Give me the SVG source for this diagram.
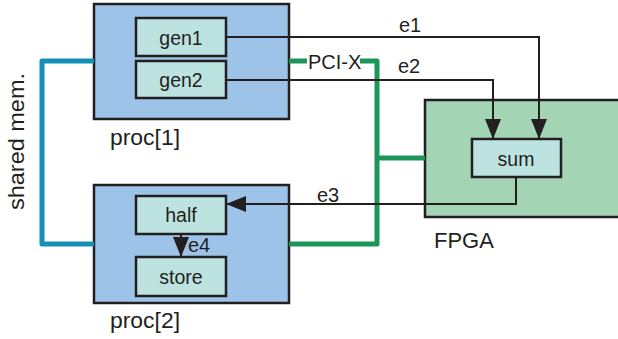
<svg xmlns="http://www.w3.org/2000/svg" width="618" height="339" viewBox="0 0 618 339">
  <defs>
    <style>
      .proc { fill: #9dc4e8; stroke: #231f20; stroke-width: 2.5; }
      .fpga { fill: #a3d5b5; stroke: #231f20; stroke-width: 2.5; }
      .task { fill: #bde3e0; stroke: #231f20; stroke-width: 2.5; }
      text { font-family: "Liberation Sans", Arial, sans-serif; fill: #231f20; }
      .in { font-size: 19.5px; text-anchor: middle; }
      .big { font-size: 22px; }
      .lbl { font-size: 20px; }
      .edge { fill: none; stroke: #231f20; stroke-width: 2; }
      .pci { fill: none; stroke: #1c9559; stroke-width: 5; stroke-linejoin: round; }
      .mem { fill: none; stroke: #1490b5; stroke-width: 5; stroke-linejoin: round; }
    </style>
    <marker id="arrow" viewBox="0 0 20 16" refX="20" refY="8" markerWidth="20" markerHeight="16" markerUnits="userSpaceOnUse" orient="auto">
      <path d="M0,0 L20,8 L0,16 Z" fill="#231f20"/>
    </marker>
  </defs>

  <!-- processor 1 -->
  <g id="proc1">
    <rect class="proc" x="94" y="4" width="195" height="115"/>
    <text class="big" x="110" y="145" textLength="70" lengthAdjust="spacingAndGlyphs">proc[1]</text>
  </g>
  <!-- processor 2 -->
  <g id="proc2">
    <rect class="proc" x="94" y="185" width="195" height="118"/>
    <text class="big" x="110" y="328" textLength="70" lengthAdjust="spacingAndGlyphs">proc[2]</text>
  </g>
  <!-- FPGA board -->
  <g id="fpga">
    <rect class="fpga" x="425" y="100" width="220" height="117"/>
    <text class="big" x="434" y="248">FPGA</text>
  </g>

  <g id="gen1">
    <rect class="task" x="136" y="18" width="90" height="38"/>
    <text class="in" x="181" y="45">gen1</text>
  </g>
  <g id="gen2">
    <rect class="task" x="136" y="61" width="90" height="37"/>
    <text class="in" x="181" y="87">gen2</text>
  </g>
  <g id="half">
    <rect class="task" x="136" y="196" width="90" height="38"/>
    <text class="in" x="181" y="222">half</text>
  </g>
  <g id="store">
    <rect class="task" x="136" y="257" width="90" height="39"/>
    <text class="in" x="181" y="284">store</text>
  </g>
  <g id="sum">
    <rect class="task" x="472" y="139" width="89" height="38"/>
    <text class="in" x="516" y="166">sum</text>
  </g>

  <!-- links and data edges -->
  <g id="connectors">
    <!-- shared memory link -->
    <path class="mem" d="M94,61 H42 V244 H94"/>
    <text class="big" transform="translate(24,210) rotate(-90)" textLength="137" lengthAdjust="spacingAndGlyphs">shared mem.</text>

    <!-- PCI-X bus -->
    <path class="pci" d="M289,61 H307"/>
    <path class="pci" d="M360,61 H377 V244 H289"/>
    <path class="pci" d="M377,158 H425"/>
    <text class="lbl" x="308" y="69">PCI-X</text>

    <!-- data edges -->
    <path class="edge" d="M226,37 H539 V139" marker-end="url(#arrow)"/>
    <text class="lbl" x="399" y="32">e1</text>
    <path class="edge" d="M226,80 H493 V139" marker-end="url(#arrow)"/>
    <text class="lbl" x="398" y="73">e2</text>
    <path class="edge" d="M516,177 V204 H226" marker-end="url(#arrow)"/>
    <text class="lbl" x="317" y="202">e3</text>
    <path class="edge" d="M181,234 V257" marker-end="url(#arrow)"/>
    <text class="lbl" x="188" y="252">e4</text>
  </g>
</svg>
